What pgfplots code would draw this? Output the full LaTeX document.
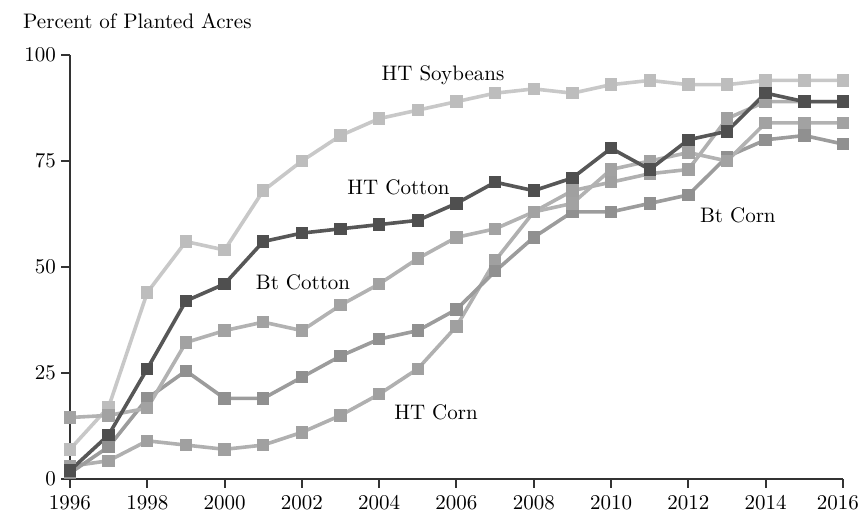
\documentclass[border=0pt]{standalone}
\usepackage{pgfplots}
\pgfplotsset{compat=1.18}
\definecolor{soy}{HTML}{C8C8C8}
\definecolor{soym}{HTML}{BDBDBD}
\definecolor{htcot}{HTML}{575757}
\definecolor{htcotm}{HTML}{4F4F4F}
\definecolor{btcot}{HTML}{B2B2B2}
\definecolor{btcotm}{HTML}{A2A2A2}
\definecolor{btcorn}{HTML}{9C9C9C}
\definecolor{btcornm}{HTML}{909090}
\definecolor{htcorn}{HTML}{B0B0B0}
\definecolor{htcornm}{HTML}{A0A0A0}
\definecolor{axc}{HTML}{333333}
\begin{document}
\begin{tikzpicture}
\useasboundingbox (-35pt,-19.5pt) rectangle (394.5pt,239.5pt);
\begin{axis}[
  scale only axis,
  width=386.5pt, height=212pt,
  xmin=1996, xmax=2016, ymin=0, ymax=100,
  axis x line=bottom, axis y line=left,
  axis line style={-, line width=1pt, color=axc},
  tick style={line width=1pt, color=axc},
  tick align=outside,
  major tick length=4.5pt,
  xtick={1996,1998,...,2014},
  extra x ticks={2016},
  extra x tick style={xticklabel style={xshift=-2.5pt}},
  ytick={0,25,50,75,100},
  yticklabel style={xshift=1pt},
  /pgf/number format/1000 sep={},
  /pgf/number format/assume math mode=true,
  tick label style={font=\fontsize{10.5}{12}\selectfont},
  clip=false,
  every axis plot/.append style={line width=1.8pt, mark=square*, mark size=2.2pt},
]
\addplot[color=soy, mark options={fill=soym, draw=soym}] coordinates {
(1996,7) (1997,17) (1998,44) (1999,56) (2000,54) (2001,68) (2002,75) (2003,81) (2004,85) (2005,87) (2006,89) (2007,91) (2008,92) (2009,91) (2010,93) (2011,94) (2012,93) (2013,93) (2014,94) (2015,94) (2016,94)};
\addplot[color=htcorn, mark options={fill=htcornm, draw=htcornm}] coordinates {
(1996,3) (1997,4.3) (1998,9) (1999,8) (2000,7) (2001,8) (2002,11) (2003,15) (2004,20) (2005,26) (2006,36) (2007,51.5) (2008,63) (2009,68) (2010,70) (2011,72) (2012,73) (2013,85) (2014,89) (2015,89) (2016,89)};
\addplot[color=btcorn, mark options={fill=btcornm, draw=btcornm}] coordinates {
(1996,1.4) (1997,7.6) (1998,19) (1999,25.5) (2000,19) (2001,19) (2002,24) (2003,29) (2004,33) (2005,35) (2006,40) (2007,49) (2008,57) (2009,63) (2010,63) (2011,65) (2012,67) (2013,76) (2014,80) (2015,81) (2016,79)};
\addplot[color=btcot, mark options={fill=btcotm, draw=btcotm}] coordinates {
(1996,14.5) (1997,15) (1998,16.7) (1999,32.2) (2000,35) (2001,37) (2002,35) (2003,41) (2004,46) (2005,52) (2006,57) (2007,59) (2008,63) (2009,65) (2010,73) (2011,75) (2012,77) (2013,75) (2014,84) (2015,84) (2016,84)};
\addplot[color=htcot, mark options={fill=htcotm, draw=htcotm}] coordinates {
(1996,2) (1997,10.4) (1998,26) (1999,42) (2000,46) (2001,56) (2002,58) (2003,59) (2004,60) (2005,61) (2006,65) (2007,70) (2008,68) (2009,71) (2010,78) (2011,73) (2012,80) (2013,82) (2014,91) (2015,89) (2016,89)};
\node[font=\fontsize{10.5}{12}\selectfont] at (axis cs:2005.65,95.3) {HT Soybeans};
\node[font=\fontsize{10.5}{12}\selectfont] at (axis cs:2004.5,68.9) {HT Cotton};
\node[font=\fontsize{10.5}{12}\selectfont] at (axis cs:2002.03,46.5) {Bt Cotton};
\node[font=\fontsize{10.5}{12}\selectfont] at (axis cs:2005.47,15.8) {HT Corn};
\node[font=\fontsize{10.5}{12}\selectfont] at (axis cs:2013.28,62.3) {Bt Corn};
\node[font=\fontsize{10.5}{12}\selectfont, anchor=base west, inner sep=0pt] at (axis cs:1994.78,106.2) {Percent of Planted Acres};
\end{axis}
\end{tikzpicture}
\end{document}
